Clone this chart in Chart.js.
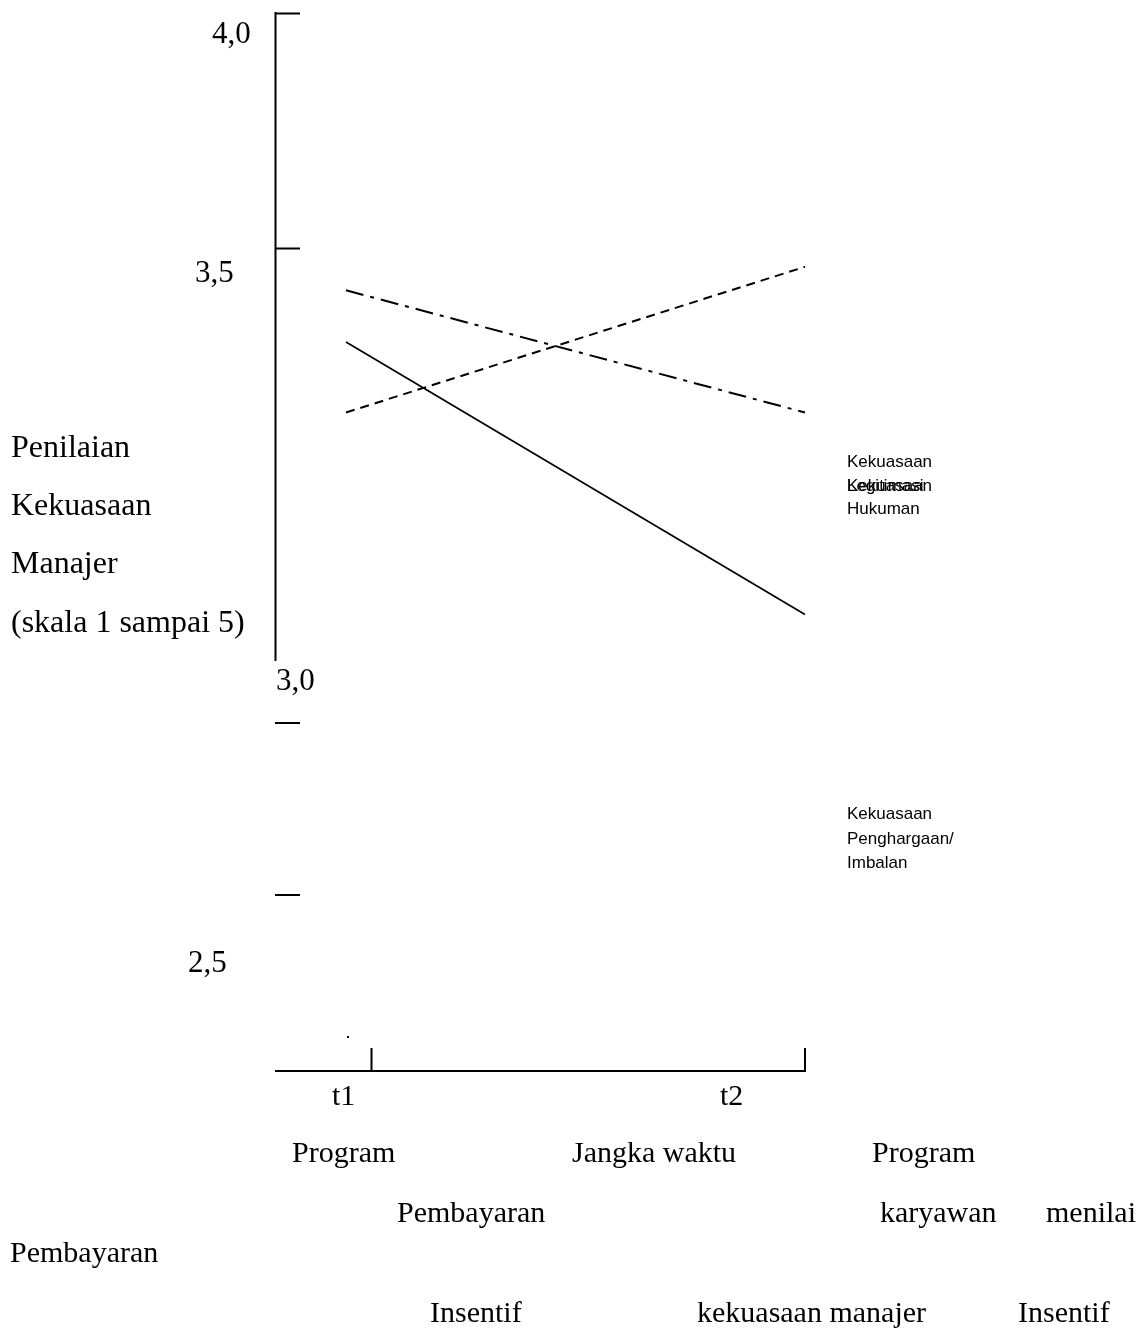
<!DOCTYPE html>
<html>
<head>
<meta charset="utf-8">
<script src="https://cdn.jsdelivr.net/npm/chart.js@4/dist/chart.umd.min.js"></script>
<style>
  html, body { margin: 0; padding: 0; background: #fff; }
  #wrap { position: relative; width: 1145px; height: 1328px; overflow: hidden; }
  #chart { position: absolute; left: 0; top: 0; }
  .t { position: absolute; white-space: pre; line-height: 1; color: #000; }
  .serif { font-family: "Liberation Serif", "Times New Roman", serif; }
  .sans { font-family: "Liberation Sans", Arial, sans-serif; }
</style>
</head>
<body>
<div id="wrap">
  <canvas id="chart" width="1145" height="1328"></canvas>
</div>
<script>
// data
const waktu = ["t1", "t2"];
const legitimasi = [3.41, 3.15];   // garis titik-strip
const hukuman = [3.15, 3.46];      // garis putus-putus
const penghargaan = [3.30, 2.72];  // garis utuh
const tickNilai = [4.0, 3.5];

const wrap = document.getElementById("wrap");

// teks ditaruh sebagai div (posisi = kiri, garis dasar)
function teks(str, x, baseline, cls, fs) {
  const d = document.createElement("div");
  d.className = "t " + cls;
  d.textContent = str;
  const asc = cls === "serif" ? 0.837 : 0.846;
  d.style.fontSize = fs + "px";
  d.style.left = x + "px";
  d.style.top = (baseline - asc * fs) + "px";
  wrap.appendChild(d);
}

teks("4,0", 212, 43, "serif", 31);
teks("3,5", 195, 282, "serif", 31);
teks("3,0", 276, 690, "serif", 31);
teks("2,5", 188, 972, "serif", 31);

teks("Penilaian", 11, 457, "serif", 32);
teks("Kekuasaan", 11, 515, "serif", 32);
teks("Manajer", 11, 573, "serif", 32);
teks("(skala 1 sampai 5)", 11, 632, "serif", 32);

teks("t1", 332, 1105, "serif", 30);
teks("t2", 720, 1105, "serif", 30);
teks("Program", 292, 1162, "serif", 30);
teks("Jangka waktu", 572, 1162, "serif", 30);
teks("Program", 872, 1162, "serif", 30);
teks("Pembayaran", 397, 1222, "serif", 30);
teks("karyawan", 880, 1222, "serif", 30);
teks("menilai", 1046, 1222, "serif", 30);
teks("Pembayaran", 10, 1262, "serif", 30);
teks("Insentif", 430, 1322, "serif", 30);
teks("kekuasaan manajer", 697, 1322, "serif", 30);
teks("Insentif", 1018, 1322, "serif", 30);

teks("Kekuasaan", 847, 467, "sans", 17);
teks("Kekuasaan", 847, 491, "sans", 17);
teks("Legitimasi", 847, 491, "sans", 17);
teks("Hukuman", 847, 514, "sans", 17);
teks("Kekuasaan", 847, 819, "sans", 17);
teks("Penghargaan/", 847, 844, "sans", 17);
teks("Imbalan", 847, 868, "sans", 17);

// sumbu digambar manual seperti gambar aslinya
const sumbuPlugin = {
  id: "sumbu",
  afterDraw(chart) {
    const ctx = chart.ctx;
    const y = chart.scales.y;
    const x = chart.scales.x;
    const ax = 275.5;
    ctx.save();
    ctx.strokeStyle = "#000";
    ctx.lineWidth = 2;
    ctx.beginPath();
    ctx.moveTo(ax, y.getPixelForValue(4.0) - 1);
    ctx.lineTo(ax, 661);
    tickNilai.forEach(v => {
      const py = Math.round(y.getPixelForValue(v)) + 0.5;
      ctx.moveTo(ax, py);
      ctx.lineTo(300, py);
    });
    ctx.moveTo(275, 723);
    ctx.lineTo(300, 723);
    ctx.moveTo(275, 895);
    ctx.lineTo(300, 895);
    // sumbu x
    const xEnd = x.getPixelForValue(1);
    ctx.moveTo(275, 1071);
    ctx.lineTo(xEnd + 1, 1071);
    ctx.moveTo(371.5, 1048);
    ctx.lineTo(371.5, 1071);
    ctx.moveTo(xEnd, 1048);
    ctx.lineTo(xEnd, 1071);
    ctx.stroke();
    ctx.fillStyle = "#000";
    ctx.fillRect(347, 1036, 2, 2);
    ctx.restore();
  }
};

new Chart(document.getElementById("chart"), {
  type: "line",
  data: {
    labels: waktu,
    datasets: [
      {
        label: "Kekuasaan Legitimasi",
        data: legitimasi,
        borderColor: "#000",
        borderWidth: 2,
        borderDash: [18, 7, 4, 7],
        pointRadius: 0
      },
      {
        label: "Kekuasaan Hukuman",
        data: hukuman,
        borderColor: "#000",
        borderWidth: 2,
        borderDash: [9, 6],
        pointRadius: 0
      },
      {
        label: "Kekuasaan Penghargaan/Imbalan",
        data: penghargaan,
        borderColor: "#000",
        borderWidth: 1.7,
        pointRadius: 0
      }
    ]
  },
  options: {
    responsive: false,
    animation: false,
    layout: { padding: { left: 346, right: 340, top: 13, bottom: 610 } },
    plugins: { legend: { display: false }, tooltip: { enabled: false } },
    scales: {
      x: { display: false, offset: false },
      y: { display: false, min: 2.5, max: 4.0 }
    }
  },
  plugins: [sumbuPlugin]
});
</script>
</body>
</html>
